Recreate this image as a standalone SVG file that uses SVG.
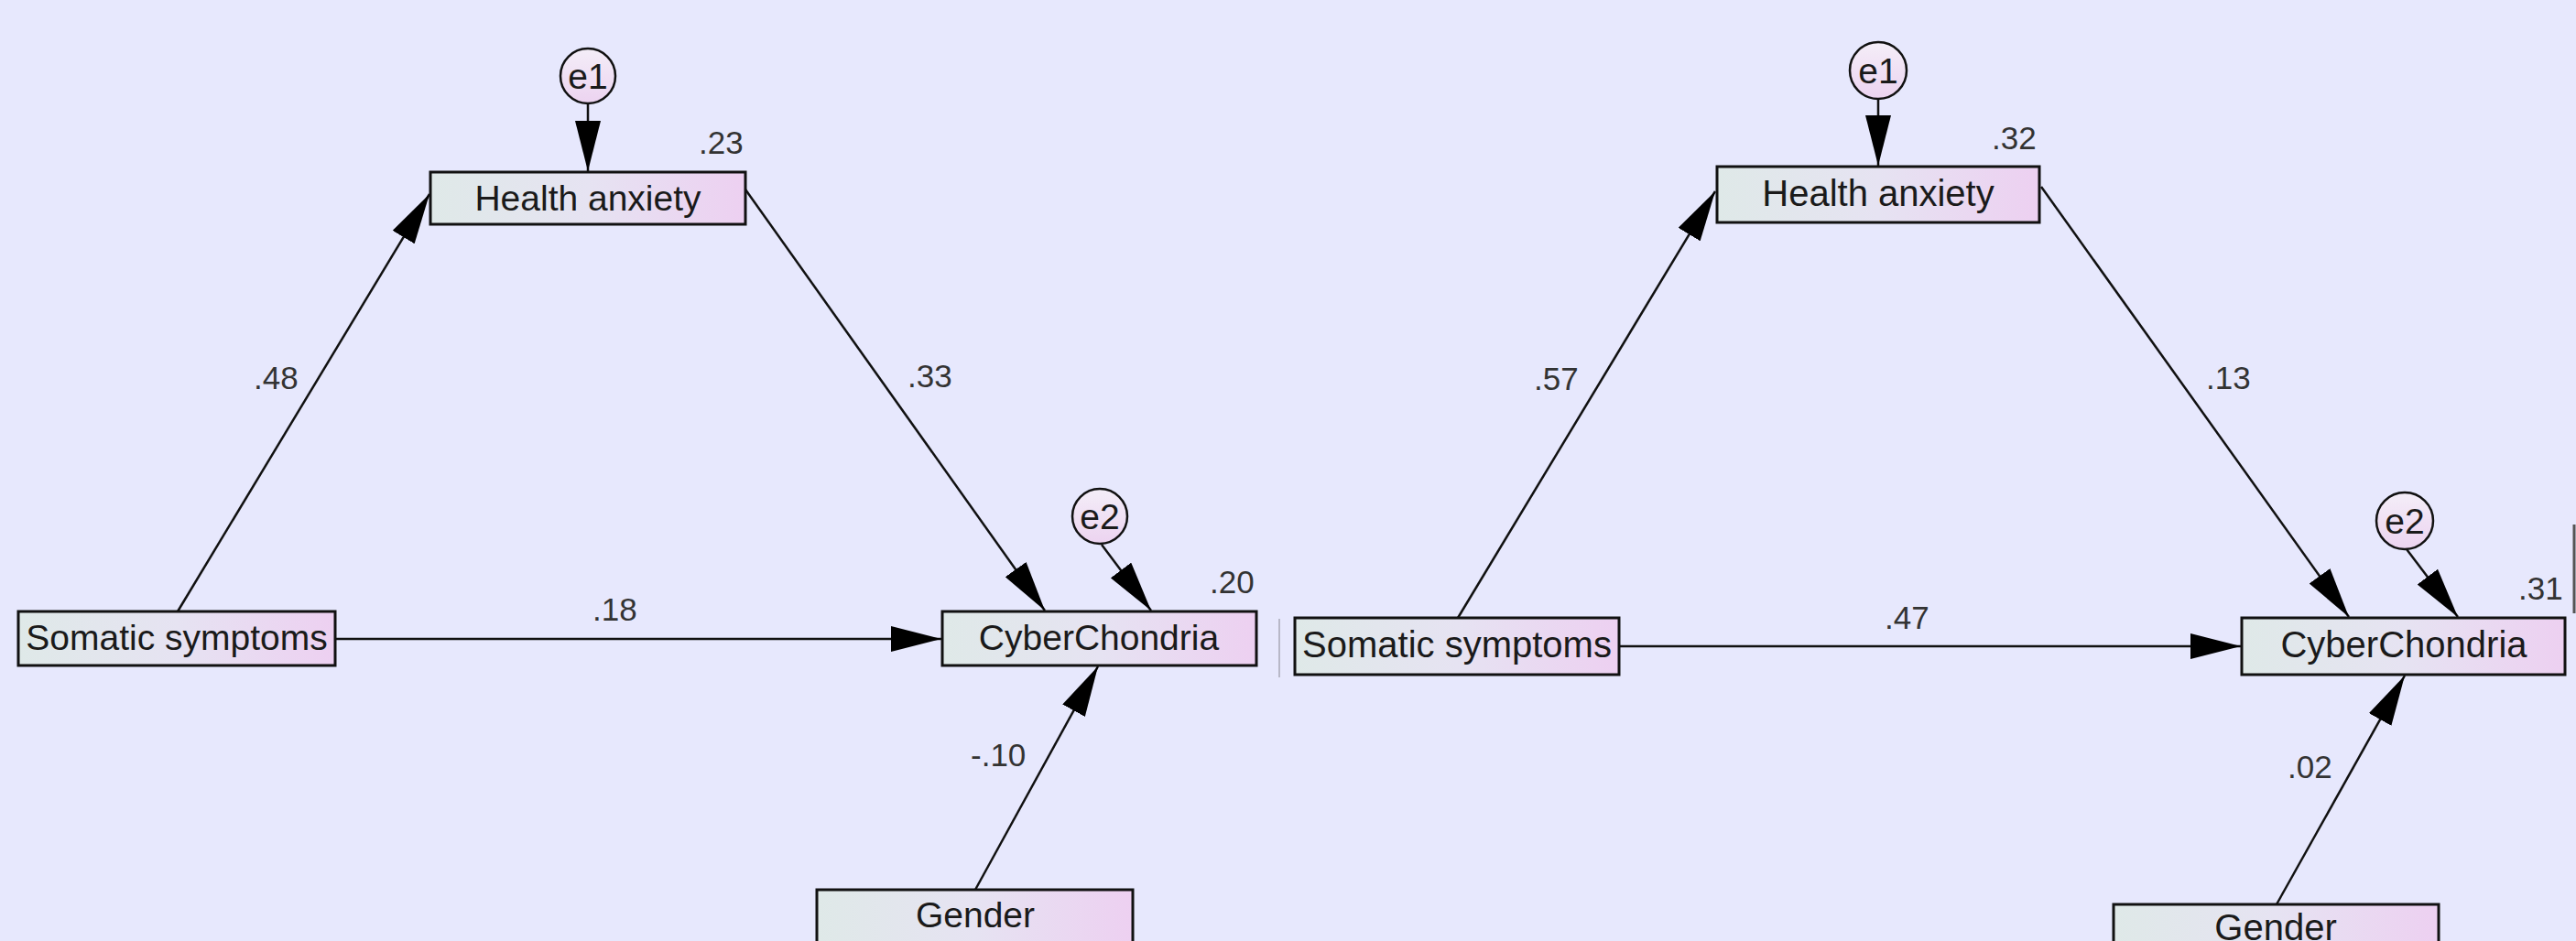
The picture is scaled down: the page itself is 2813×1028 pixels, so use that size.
<svg xmlns="http://www.w3.org/2000/svg" width="2813" height="1028" viewBox="0 0 2813 1028">
<style>
.box{stroke:#111;stroke-width:3;fill:url(#boxg)}
.err{stroke:#111;stroke-width:2.5;fill:url(#errg)}
.lbl{font-family:"Liberation Sans",Arial,sans-serif;font-size:39px;fill:#1a1a1a;text-anchor:middle}
.lblr{font-family:"Liberation Sans",Arial,sans-serif;font-size:40px;fill:#1a1a1a;text-anchor:middle}
.elbl{font-family:"Liberation Sans",Arial,sans-serif;font-size:39px;fill:#1a1a1a;text-anchor:middle}
.num{font-family:"Liberation Sans",Arial,sans-serif;font-size:35px;fill:#333}
.edge{stroke:#111;stroke-width:2.5;fill:none;marker-end:url(#ah)}
</style>
<defs>
<linearGradient id="boxg" x1="0" y1="0" x2="1" y2="0">
<stop offset="0" stop-color="#dfe9e8"/>
<stop offset="0.5" stop-color="#e6e3f2"/>
<stop offset="1" stop-color="#edd0f1"/>
</linearGradient>
<linearGradient id="errg" x1="0" y1="0" x2="0" y2="1">
<stop offset="0" stop-color="#f4eef8"/>
<stop offset="1" stop-color="#ecd3f0"/>
</linearGradient>
<marker id="ah" markerUnits="userSpaceOnUse" markerWidth="56" markerHeight="28" refX="55" refY="14" orient="auto" viewBox="0 0 56 28">
<path d="M0,0 L55,14 L0,28 Z" fill="#000"/>
</marker>
</defs>
<rect x="0" y="0" width="2813" height="1028" fill="#e7e8fd"/>

<g id="connectors">
<line class="edge" x1="642" y1="113" x2="642" y2="187"/>
<line class="edge" x1="194" y1="668" x2="469" y2="212"/>
<line class="edge" x1="814" y1="207" x2="1141" y2="667"/>
<line class="edge" x1="366" y1="698" x2="1028" y2="698"/>
<line class="edge" x1="1203" y1="595" x2="1257" y2="667"/>
<line class="edge" x1="1065" y1="972" x2="1199" y2="728"/>

<line class="edge" x1="2051" y1="108" x2="2051" y2="181"/>
<line class="edge" x1="1592" y1="675" x2="1873" y2="209"/>
<line class="edge" x1="2229" y1="204" x2="2565" y2="674"/>
<line class="edge" x1="1768" y1="706" x2="2447" y2="706"/>
<line class="edge" x1="2628" y1="600" x2="2684" y2="674"/>
<line class="edge" x1="2486" y1="988" x2="2626" y2="738"/>
</g>

<g id="L_e1"><circle class="err" cx="642" cy="83" r="30"/><text class="elbl" x="642" y="97">e1</text></g>
<g id="L_health"><rect class="box" x="470" y="188" width="344" height="57"/><text class="lbl" x="642" y="230">Health anxiety</text></g>
<g id="L_somatic"><rect class="box" x="20" y="668" width="346" height="59"/><text class="lbl" x="193" y="710">Somatic symptoms</text></g>
<g id="L_cyber"><rect class="box" x="1029" y="668" width="343" height="59"/><text class="lbl" x="1200" y="710">CyberChondria</text></g>
<g id="L_e2"><circle class="err" cx="1201" cy="564" r="30"/><text class="elbl" x="1201" y="578">e2</text></g>
<g id="L_gender"><rect class="box" x="892" y="972" width="345" height="70"/><text class="lbl" x="1065" y="1013">Gender</text></g>

<g id="R_e1"><circle class="err" cx="2051" cy="77" r="31"/><text class="elbl" x="2051" y="91">e1</text></g>
<g id="R_health"><rect class="box" x="1875" y="182" width="352" height="61"/><text class="lblr" x="2051" y="225">Health anxiety</text></g>
<g id="R_somatic"><rect class="box" x="1414" y="675" width="354" height="62"/><text class="lblr" x="1591" y="718">Somatic symptoms</text></g>
<g id="R_cyber"><rect class="box" x="2448" y="675" width="353" height="62"/><text class="lblr" x="2625" y="718">CyberChondria</text></g>
<g id="R_e2"><circle class="err" cx="2626" cy="569" r="31"/><text class="elbl" x="2626" y="583">e2</text></g>
<g id="R_gender"><rect class="box" x="2308" y="988" width="355" height="70"/><text class="lblr" x="2485" y="1027">Gender</text></g>

<g id="labels">
<text class="num" x="763" y="168">.23</text>
<text class="num" x="277" y="425">.48</text>
<text class="num" x="991" y="423">.33</text>
<text class="num" x="647" y="678">.18</text>
<text class="num" x="1321" y="648">.20</text>
<text class="num" x="1060" y="837">-.10</text>
<text class="num" x="2175" y="163">.32</text>
<text class="num" x="1675" y="426">.57</text>
<text class="num" x="2409" y="425">.13</text>
<text class="num" x="2058" y="687">.47</text>
<text class="num" x="2750" y="655">.31</text>
<text class="num" x="2498" y="850">.02</text>
</g>

<line x1="1397" y1="676" x2="1397" y2="740" stroke="#b8b8c8" stroke-width="2"/>
<line x1="2811" y1="573" x2="2811" y2="670" stroke="#555" stroke-width="3"/>
</svg>
